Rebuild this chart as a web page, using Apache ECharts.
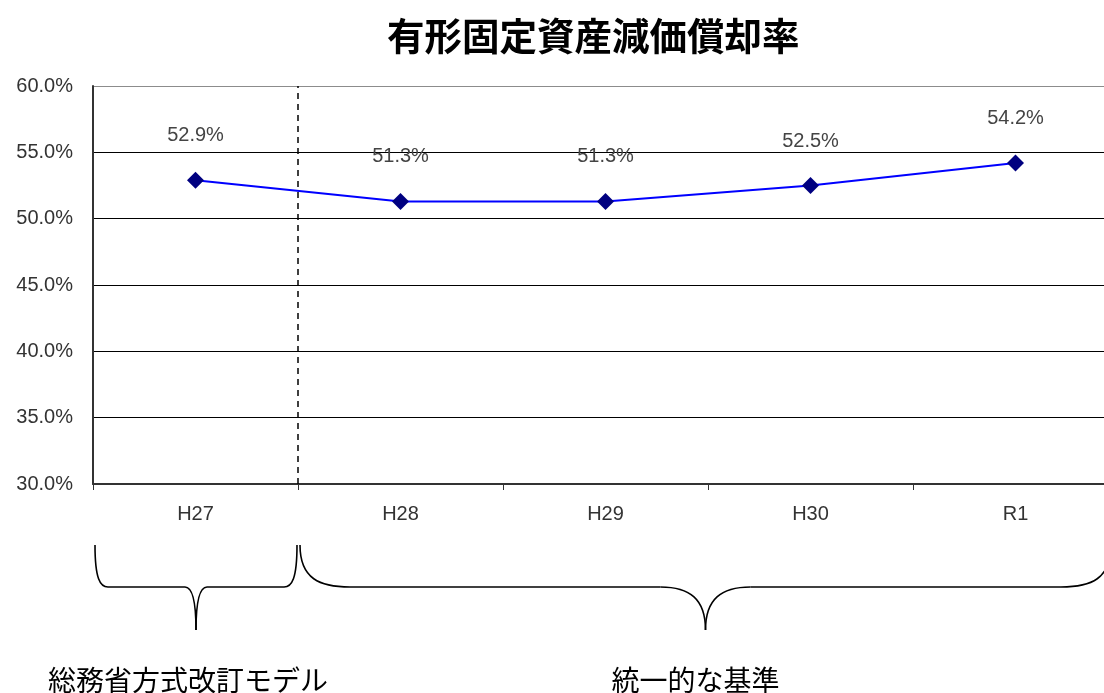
<!DOCTYPE html>
<html>
<head>
<meta charset="utf-8">
<script src="https://cdn.jsdelivr.net/npm/echarts@6/dist/echarts.min.js"></script>
<style>
html,body{margin:0;padding:0;background:#fff;}
#chart{width:1104px;height:693px;}
</style>
</head>
<body>
<div id="chart"></div>
<script>
const titleText = '有形固定資産減価償却率';
const categories = ['H27', 'H28', 'H29', 'H30', 'R1'];
const rates = [52.9, 51.3, 51.3, 52.5, 54.2];
const yMin = 30, yMax = 60, yStep = 5;
const groupNames = ['総務省方式改訂モデル', '統一的な基準'];
const groupFrom = [0, 1];
const groupTo = [1, 5];
const dividerAt = [1];

const chart = echarts.init(document.getElementById('chart'));
const latin = 'Liberation Sans, Arial, sans-serif';
const cjk = 'Noto Sans CJK JP, sans-serif';

const nLines = (yMax - yMin) / yStep + 1;
const splitColors = [];
for (let i = 0; i < nLines; i++) splitColors.push(i === nLines - 1 ? '#8c8c8c' : '#000000');

chart.setOption({
  animation: false,
  backgroundColor: '#ffffff',
  title: {
    text: titleText,
    left: 382, top: 12,
    textStyle: { fontFamily: cjk, fontSize: 37.5, fontWeight: 'bold', color: '#000' }
  },
  grid: { left: 93, right: -14, top: 86, bottom: 209, containLabel: false, outerBoundsMode: 'none' },
  xAxis: [{
    type: 'category',
    data: categories,
    boundaryGap: true,
    axisLine: { show: true, lineStyle: { color: '#333', width: 2 } },
    axisTick: { show: true, length: 6, lineStyle: { color: '#333', width: 1 } },
    axisLabel: { margin: 20, fontSize: 20, color: '#333', fontFamily: latin },
    splitLine: { show: false }
  }, {
    type: 'value', min: 0, max: categories.length, show: false
  }],
  yAxis: {
    type: 'value',
    min: yMin, max: yMax, interval: yStep,
    axisLine: { show: true, lineStyle: { color: '#333', width: 2 } },
    axisTick: { show: false },
    axisLabel: { margin: 20, fontSize: 20, color: '#333', fontFamily: latin,
      formatter: v => v.toFixed(1) + '%' },
    splitLine: { show: true, lineStyle: { color: splitColors, width: 1 } }
  },
  series: [{
    type: 'line',
    data: rates,
    xAxisIndex: 0,
    symbol: 'diamond',
    symbolSize: 17,
    itemStyle: { color: '#000080' },
    lineStyle: { color: '#0000ff', width: 2 },
    label: {
      show: true, position: 'top', distance: 26,
      fontSize: 20, color: '#444', fontFamily: latin,
      formatter: p => p.value.toFixed(1) + '%'
    },
    z: 5
  }, {
    type: 'line',
    xAxisIndex: 1,
    data: [],
    markLine: {
      silent: true, symbol: 'none', animation: false,
      label: { show: false },
      lineStyle: { color: '#000', type: [6, 5], width: 1.5 },
      data: dividerAt.map(v => ({ xAxis: v }))
    }
  }]
});

// braces and group labels below the axis, placed through the axis scale
const yTop = 545, yMid = 587, yTip = 630, yLabel = 680;
const strokeStyle = { fill: null, stroke: '#000', lineWidth: 1.6 };
const graphics = [];
function bez(x1, y1, c1x, c1y, c2x, c2y, x2, y2) {
  graphics.push({ type: 'bezierCurve',
    shape: { x1: x1, y1: y1, cpx1: c1x, cpy1: c1y, cpx2: c2x, cpy2: c2y, x2: x2, y2: y2 },
    style: strokeStyle });
}
function seg(x1, y1, x2, y2) {
  graphics.push({ type: 'line', shape: { x1: x1, y1: y1, x2: x2, y2: y2 }, style: strokeStyle });
}
for (let g = 0; g < groupNames.length; g++) {
  let x0 = chart.convertToPixel({ xAxisIndex: 1 }, groupFrom[g]);
  let x1 = chart.convertToPixel({ xAxisIndex: 1 }, groupTo[g]);
  x0 += 2; x1 -= (g === 0 ? 1 : 7);
  const xc = (x0 + x1) / 2;
  const wEnd = g === 0 ? 13 : 50;
  const wC = g === 0 ? 11 : 45;
  bez(x0, yTop, x0, yMid - 8, x0 + wEnd * 0.4, yMid, x0 + wEnd, yMid);
  seg(x0 + wEnd, yMid, xc - wC, yMid);
  bez(xc - wC, yMid, xc - wC * 0.35, yMid, xc, yMid + 12, xc, yTip);
  bez(xc, yTip, xc, yMid + 12, xc + wC * 0.35, yMid, xc + wC, yMid);
  seg(xc + wC, yMid, x1 - wEnd, yMid);
  bez(x1 - wEnd, yMid, x1 - wEnd * 0.4, yMid, x1, yMid - 8, x1, yTop);
  graphics.push({
    type: 'text', x: xc - (g === 0 ? 8 : 10), y: yLabel,
    style: { text: groupNames[g], fontFamily: cjk, fontSize: 28, fill: '#000',
      align: 'center', verticalAlign: 'middle', fontWeight: 'normal' }
  });
}
chart.setOption({ graphic: graphics });
</script>
</body>
</html>
